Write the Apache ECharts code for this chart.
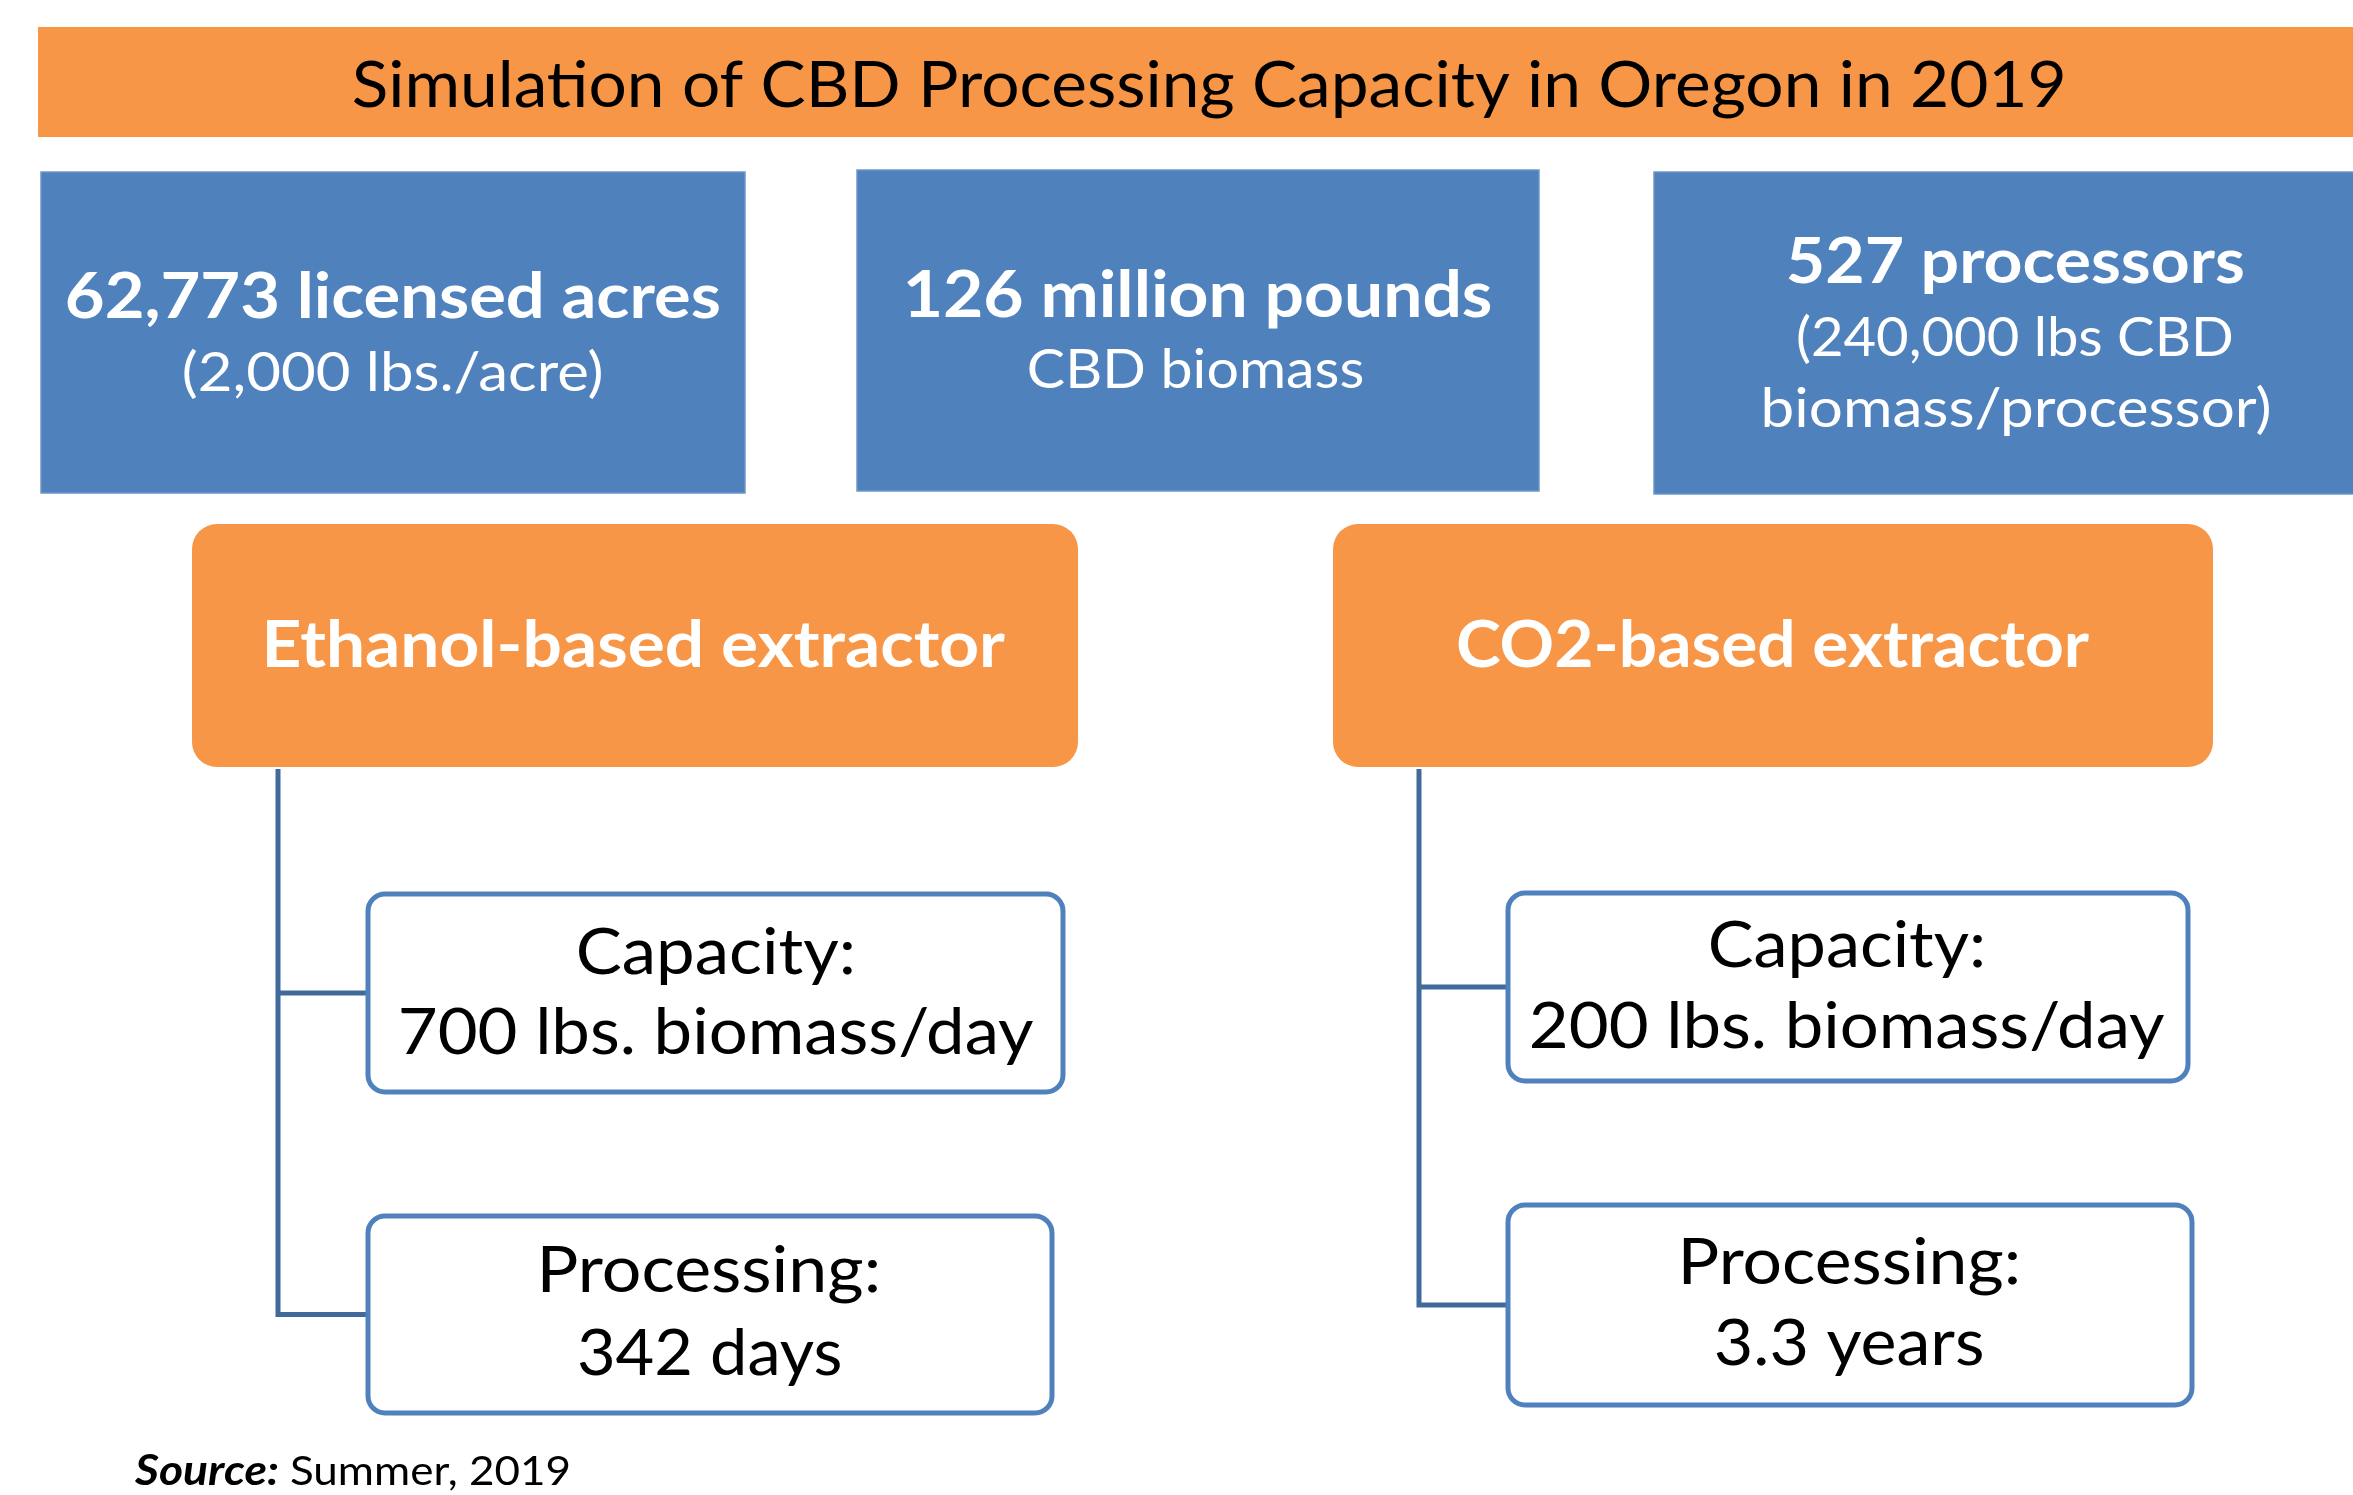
<!DOCTYPE html>
<html><head><meta charset="utf-8">
<script src="https://cdn.jsdelivr.net/npm/echarts@6/dist/echarts.min.js"></script>
<style>html,body{margin:0;padding:0;background:#fff}#main{width:2353px;height:1495px}</style>
</head><body><div id="main"></div>
<script>
// ---------- DATA (text content of the diagram) ----------
const titleText = 'Simulation of CBD Processing Capacity in Oregon in 2019';
const summaryHeadlines = ['62,773 licensed acres', '126 million pounds', '527 processors'];
const summaryDetails = [['(2,000 lbs./acre)'], ['CBD biomass'], ['(240,000 lbs CBD', 'biomass/processor)']];
const extractorNames = ['Ethanol-based extractor', 'CO2-based extractor'];
const capacityLines = [['Capacity:', '700 lbs. biomass/day'], ['Capacity:', '200 lbs. biomass/day']];
const processingLines = [['Processing:', '342 days'], ['Processing:', '3.3 years']];
const sourceLabel = 'Source:';
const sourceText = 'Summer, 2019';

// ---------- LAYOUT ----------
const ORANGE = '#F79646', BLUE = '#4F81BD', LINE = '#41699A';
const FONT = 'Lato';
const titleBar = {x0: 38, x1: 2360, y0: 27, y1: 137};
const titleTxt = {l: 354, r: 2063, b: 107, cap: 46};
const summaryBoxes = [
  {x0: 41, x1: 745, y0: 172, y1: 493},
  {x0: 857, x1: 1539, y0: 170, y1: 491},
  {x0: 1654, x1: 2370, y0: 172, y1: 494}
];
const summaryHeadTxt = [
  {l: 67, r: 719, b: 318, cap: 46},
  {l: 907, r: 1491, b: 317, cap: 47},
  {l: 1788, r: 2243, b: 283, cap: 46}
];
const summaryDetailTxt = [
  [{l: 184, r: 601, b: 391, cap: 39}],
  [{l: 1029, r: 1363, b: 388, cap: 39}],
  [{l: 1798, r: 2232, b: 356, cap: 39}, {l: 1764, r: 2269, b: 427, cap: 39}]
];
const extBoxes = [
  {x0: 192, x1: 1078, y0: 524, y1: 767},
  {x0: 1333, x1: 2213, y0: 524, y1: 767}
];
const extTxt = [
  {l: 267, r: 1005, b: 667, cap: 47},
  {l: 1458, r: 2089, b: 667, cap: 47}
];
const capBoxes = [
  {x0: 368, x1: 1063, y0: 894, y1: 1092},
  {x0: 1508, x1: 2188, y0: 893, y1: 1081}
];
const capTxt = [
  [{l: 579, r: 852, b: 974, cap: 46}, {l: 401, r: 1033, b: 1054, cap: 46}],
  [{l: 1711, r: 1982, b: 967, cap: 46}, {l: 1531, r: 2164, b: 1048, cap: 46}]
];
const procBoxes = [
  {x0: 368, x1: 1052, y0: 1216, y1: 1413},
  {x0: 1508, x1: 2192, y0: 1205, y1: 1405}
];
const procTxt = [
  [{l: 542, r: 877, b: 1292, cap: 46}, {l: 579, r: 840, b: 1375, cap: 46}],
  [{l: 1683, r: 2017, b: 1284, cap: 46}, {l: 1716, r: 1982, b: 1365, cap: 46}]
];
const connectorX = [278, 1419];
const sourceLabelTxt = {l: 134, r: 278, b: 1485, cap: 30};
const sourceTextTxt = {l: 291, r: 569, b: 1485, cap: 30};

// ---------- HELPERS ----------
const ctx = document.createElement('canvas').getContext('2d');
function fitText(str, pos, weight, fstyle, fill) {
  ctx.textAlign = 'left';
  ctx.textBaseline = 'alphabetic';
  ctx.font = `${fstyle} ${weight} 100px "${FONT}"`;
  const capRatio = ctx.measureText('H').actualBoundingBoxAscent / 100;
  const size = pos.cap / capRatio;
  ctx.font = `${fstyle} ${weight} ${size}px "${FONT}"`;
  const m = ctx.measureText(str);
  const L = m.actualBoundingBoxLeft, R = m.actualBoundingBoxRight;
  const s = (pos.r - pos.l) / (L + R);
  ctx.textBaseline = 'middle';
  const d = ctx.measureText('H').actualBoundingBoxDescent;
  return {
    type: 'text', x: pos.l + L * s, y: pos.b - d, scaleX: s, silent: true, z: 10,
    style: {
      text: str, fontFamily: FONT, fontSize: size, fontWeight: weight, fontStyle: fstyle, fill: fill,
      align: 'left', verticalAlign: 'middle', textAlign: 'left', textVerticalAlign: 'middle'
    }
  };
}
function rect(b, r, fill, stroke, lw) {
  return {
    type: 'rect', silent: true, z: 1,
    shape: {x: b.x0, y: b.y0, width: b.x1 - b.x0, height: b.y1 - b.y0, r: r},
    style: {fill: fill, stroke: stroke || null, lineWidth: lw || 0}
  };
}
function poly(points) {
  return {type: 'polyline', silent: true, z: 0, shape: {points: points},
    style: {stroke: LINE, lineWidth: 5, fill: null}};
}

// ---------- BUILD ----------
const els = [];
els.push(rect(titleBar, 0, ORANGE));
els.push(fitText(titleText, titleTxt, 'normal', 'normal', '#000'));

summaryBoxes.forEach((b, i) => {
  els.push(rect(b, 0, BLUE, '#7097C9', 1.5));
  els.push(fitText(summaryHeadlines[i], summaryHeadTxt[i], 'bold', 'normal', '#fff'));
  summaryDetails[i].forEach((t, j) => els.push(fitText(t, summaryDetailTxt[i][j], 'normal', 'normal', '#fff')));
});

extractorNames.forEach((name, i) => {
  const eb = extBoxes[i], cb = capBoxes[i], pb = procBoxes[i], cx = connectorX[i];
  const cy1 = (cb.y0 + cb.y1) / 2, cy2 = (pb.y0 + pb.y1) / 2;
  els.push(poly([[cx, eb.y1 + 2], [cx, cy2], [pb.x0, cy2]]));
  els.push(poly([[cx, cy1], [cb.x0, cy1]]));
  els.push(rect(eb, 25, ORANGE));
  els.push(fitText(name, extTxt[i], 'bold', 'normal', '#fff'));
  els.push(rect(cb, 17, '#fff', BLUE, 5));
  capacityLines[i].forEach((t, j) => els.push(fitText(t, capTxt[i][j], 'normal', 'normal', '#000')));
  els.push(rect(pb, 17, '#fff', BLUE, 5));
  processingLines[i].forEach((t, j) => els.push(fitText(t, procTxt[i][j], 'normal', 'normal', '#000')));
});

els.push(fitText(sourceLabel, sourceLabelTxt, 'bold', 'italic', '#000'));
els.push(fitText(sourceText, sourceTextTxt, 'normal', 'normal', '#000'));

const chart = echarts.init(document.getElementById('main'), null, {renderer: 'canvas'});
chart.setOption({
  backgroundColor: '#fff',
  animation: false,
  graphic: {elements: els}
});
</script>
</body></html>
